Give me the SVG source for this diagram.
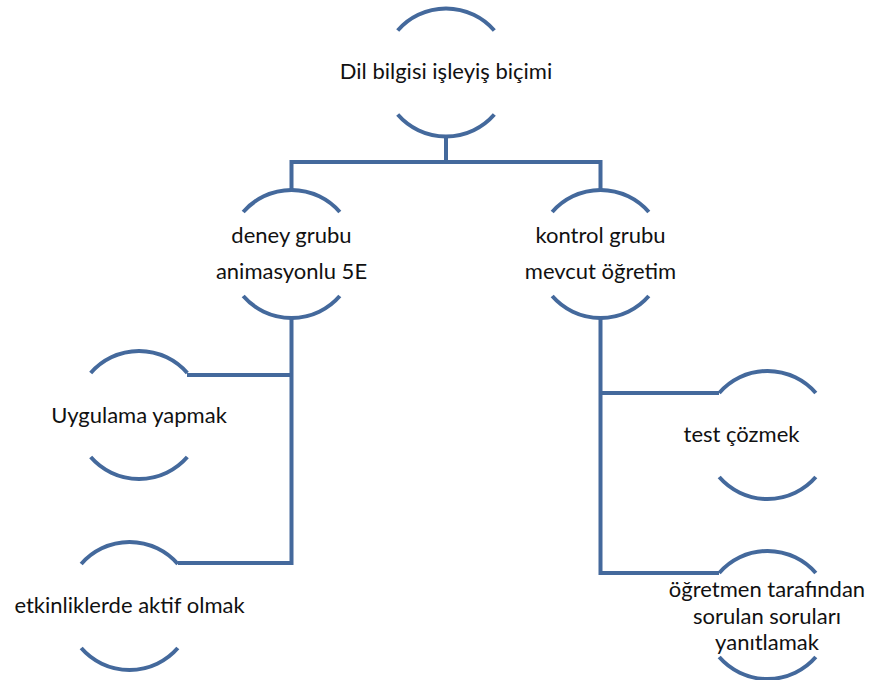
<svg xmlns="http://www.w3.org/2000/svg" width="872" height="680" viewBox="0 0 872 680">
  <style>
    .arc { fill: none; stroke: #44699C; stroke-width: 4; }
    .link { fill: none; stroke: #44699C; stroke-width: 4; stroke-linejoin: miter; }
    .lbl { font-family: Lato, "Open Sans", "Liberation Sans", sans-serif; font-size: 22px; fill: #111; text-anchor: middle; }
  </style>
  <defs>
    <!-- open circle: top and bottom arcs of a r=64 circle centred on 0,0 -->
    <g id="ring">
      <path class="arc" d="M-48.3,-42 A64,64 0 0 1 48.3,-42"/>
      <path class="arc" d="M-48.3,42 A64,64 0 0 0 48.3,42"/>
    </g>
  </defs>
  <rect width="872" height="680" fill="#fff"/>

  <g id="connectors">
    <path class="link" d="M446,137 V162"/>
    <path class="link" d="M291.5,190 V162 H600.5 V190"/>
    <path class="link" d="M291.5,318 V563 H178"/>
    <path class="link" d="M291.5,375 H187"/>
    <path class="link" d="M600.5,318 V573 H719"/>
    <path class="link" d="M600.5,393 H719"/>
  </g>

  <g id="node-root">
    <use href="#ring" x="446" y="72.5"/>
    <text class="lbl" x="446" y="79">Dil bilgisi işleyiş biçimi</text>
  </g>
  <g id="node-deney">
    <use href="#ring" x="291.5" y="254"/>
    <text class="lbl" x="291.5" y="243">deney grubu</text>
    <text class="lbl" x="291.5" y="279">animasyonlu 5E</text>
  </g>
  <g id="node-kontrol">
    <use href="#ring" x="600.5" y="254"/>
    <text class="lbl" x="600.5" y="243">kontrol grubu</text>
    <text class="lbl" x="600.5" y="279">mevcut öğretim</text>
  </g>
  <g id="node-uygulama">
    <use href="#ring" x="139" y="415"/>
    <text class="lbl" x="139" y="423">Uygulama yapmak</text>
  </g>
  <g id="node-etkinlik">
    <use href="#ring" x="129.5" y="606"/>
    <text class="lbl" x="129.5" y="613">etkinliklerde aktif olmak</text>
  </g>
  <g id="node-test">
    <use href="#ring" x="767.5" y="435"/>
    <text class="lbl" x="741.5" y="442">test çözmek</text>
  </g>
  <g id="node-soru">
    <use href="#ring" x="767.5" y="615"/>
    <text class="lbl" x="767" y="597">öğretmen tarafından</text>
    <text class="lbl" x="767" y="624">sorulan soruları</text>
    <text class="lbl" x="767" y="650">yanıtlamak</text>
  </g>
</svg>
